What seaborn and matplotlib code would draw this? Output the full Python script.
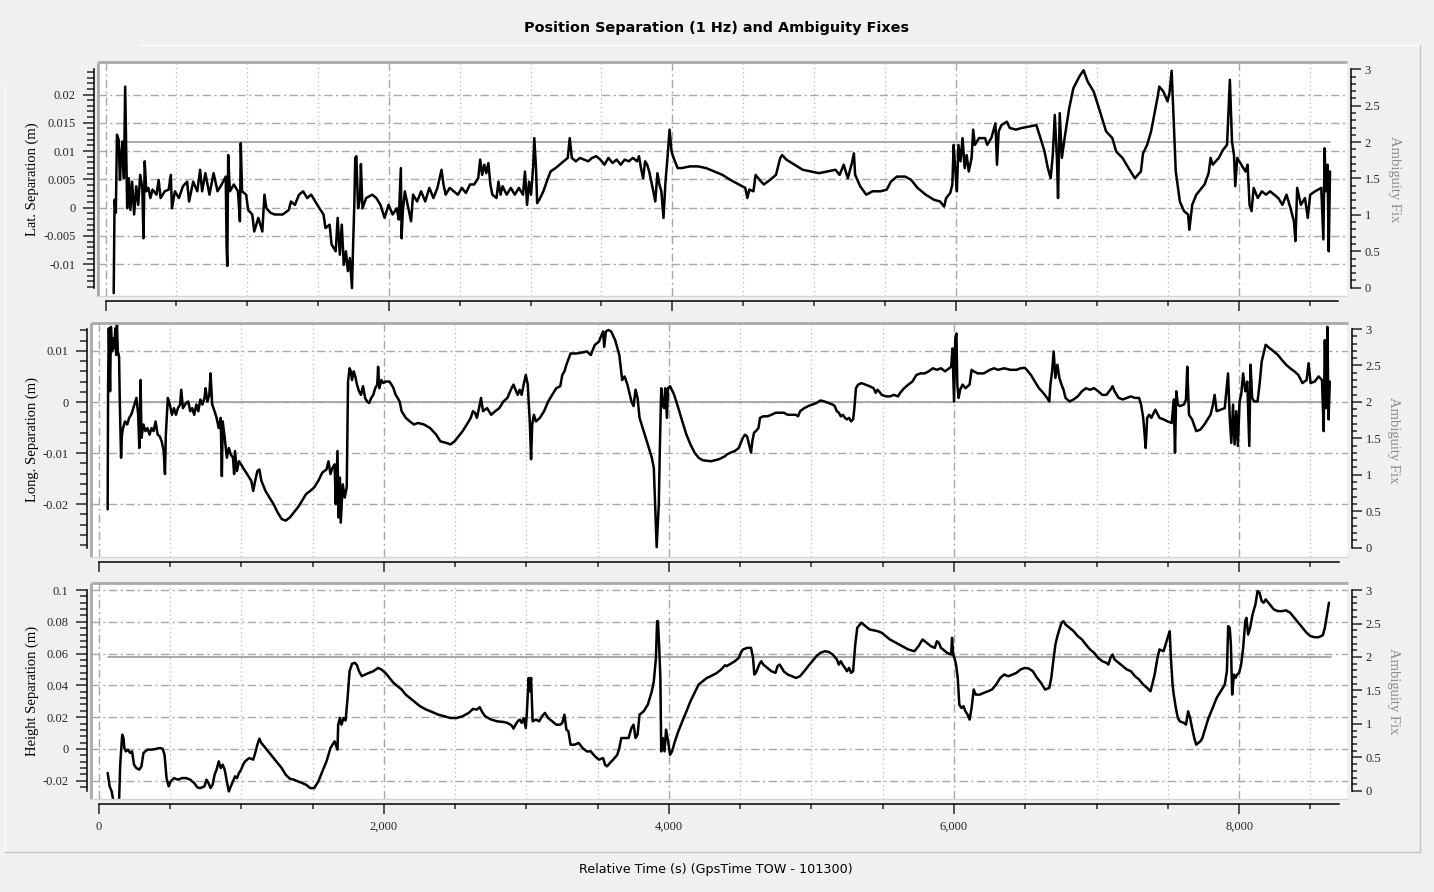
import numpy as np
import matplotlib
matplotlib.use("Agg")
import matplotlib.pyplot as plt
import seaborn as sns
from matplotlib.ticker import FixedLocator, FuncFormatter, NullFormatter
from matplotlib.lines import Line2D

sns.set_style("white")
plt.rcParams['font.family'] = ['DejaVu Sans']

# ---------------- data ----------------
title_text = "Position Separation (1 Hz) and Ambiguity Fixes"
xlabel_text = "Relative Time (s) (GpsTime TOW - 101300)"
ylabels = ["Lat. Separation (m)", "Long. Separation (m)", "Height Separation (m)"]
amb_label = "Ambiguity Fix"

lat_t = [57, 63, 72, 80, 92, 101, 109, 118, 129, 138,
         147, 152, 164, 175, 187, 201, 216, 230, 244, 259,
         267, 276, 287, 302, 316, 331, 359, 374, 388, 417,
         445, 460, 468, 489, 517, 546, 575, 589, 618, 647,
         667, 681, 704, 733, 762, 790, 819, 848, 854, 859,
         865, 877, 905, 934, 948, 954, 963, 992, 1006, 1035,
         1049, 1078, 1106, 1121, 1135, 1164, 1193, 1250, 1293, 1308,
         1336, 1365, 1394, 1423, 1451, 1480, 1509, 1538, 1552, 1581,
         1595, 1624, 1638, 1653, 1667, 1681, 1696, 1710, 1724, 1739,
         1747, 1756, 1762, 1770, 1782, 1796, 1802, 1813, 1839, 1882,
         1911, 1940, 1969, 1997, 2026, 2055, 2069, 2084, 2089, 2098,
         2112, 2141, 2156, 2170, 2199, 2227, 2256, 2285, 2314, 2342,
         2357, 2371, 2385, 2400, 2429, 2457, 2486, 2515, 2543, 2572,
         2601, 2630, 2644, 2658, 2673, 2687, 2702, 2716, 2730, 2759,
         2773, 2788, 2802, 2831, 2860, 2888, 2917, 2946, 2960, 2975,
         2989, 3003, 3018, 3026, 3038, 3046, 3061, 3090, 3118, 3141,
         3176, 3204, 3233, 3262, 3276, 3291, 3319, 3348, 3377, 3406,
         3434, 3463, 3492, 3521, 3549, 3578, 3607, 3636, 3664, 3693,
         3722, 3751, 3765, 3779, 3794, 3808, 3823, 3837, 3866, 3880,
         3895, 3909, 3923, 3938, 3952, 3966, 3981, 3995, 4009, 4038,
         4067, 4124, 4182, 4239, 4297, 4354, 4411, 4515, 4530, 4544,
         4573, 4588, 4617, 4646, 4689, 4732, 4762, 4776, 4805, 4863,
         4921, 4978, 5036, 5094, 5152, 5181, 5210, 5239, 5268, 5282,
         5291, 5326, 5369, 5413, 5470, 5514, 5543, 5586, 5644, 5687,
         5731, 5789, 5847, 5890, 5919, 5933, 5962, 5977, 5986, 5997,
         6009, 6020, 6035, 6049, 6064, 6078, 6093, 6113, 6124, 6136,
         6165, 6208, 6223, 6252, 6281, 6292, 6304, 6324, 6362, 6382,
         6425, 6469, 6512, 6570, 6599, 6628, 6651, 6671, 6686, 6700,
         6715, 6723, 6735, 6750, 6773, 6802, 6831, 6874, 6903, 6932,
         6975, 7019, 7062, 7106, 7134, 7178, 7221, 7265, 7308, 7323,
         7352, 7380, 7424, 7438, 7467, 7496, 7511, 7525, 7534, 7554,
         7583, 7612, 7641, 7650, 7670, 7699, 7728, 7757, 7786, 7800,
         7815, 7858, 7887, 7916, 7936, 7951, 7965, 7974, 7988, 8017,
         8046, 8061, 8075, 8089, 8104, 8133, 8162, 8191, 8220, 8249,
         8278, 8307, 8336, 8364, 8388, 8399, 8411, 8437, 8466, 8486,
         8503, 8538, 8581, 8596, 8605, 8613, 8625, 8634, 8643]
lat_v = [-0.0151, 0.0014, -0.0009, 0.0129, 0.0120, 0.0049, 0.0088, 0.0117, 0.0052, 0.0214,
         0.0070, -0.0001, 0.0052, -0.0004, 0.0046, -0.0012, 0.0038, 0.0005, 0.0058, 0.0035,
         -0.0054, 0.0082, 0.0029, 0.0035, 0.0017, 0.0032, 0.0023, 0.0049, 0.0017, 0.0029,
         0.0032, 0.0058, -0.0001, 0.0029, 0.0017, 0.0038, 0.0046, 0.0011, 0.0046, 0.0029,
         0.0067, 0.0029, 0.0061, 0.0023, 0.0061, 0.0029, 0.0041, 0.0055, -0.0071, -0.0103,
         0.0093, 0.0029, 0.0041, 0.0029, -0.0024, 0.0114, 0.0029, 0.0023, -0.0004, -0.0012,
         -0.0042, -0.0018, -0.0042, 0.0023, -0.0001, -0.0009, -0.0012, -0.0012, -0.0004, 0.0011,
         0.0005, 0.0023, 0.0029, 0.0017, 0.0023, 0.0011, -0.0001, -0.0012, -0.0036, -0.0030,
         -0.0065, -0.0077, -0.0018, -0.0083, -0.0030, -0.0101, -0.0077, -0.0112, -0.0089, -0.0142,
         -0.0065, 0.0011, 0.0088, 0.0091, -0.0001, 0.0017, 0.0077, -0.0001, 0.0017, 0.0023,
         0.0017, 0.0005, -0.0018, 0.0005, -0.0012, -0.0001, -0.0021, 0.0070, -0.0054, -0.0006,
         0.0029, -0.0006, -0.0024, 0.0023, 0.0011, 0.0029, 0.0011, 0.0035, 0.0017, 0.0035,
         0.0052, 0.0067, 0.0041, 0.0023, 0.0035, 0.0029, 0.0023, 0.0035, 0.0026, 0.0041,
         0.0041, 0.0052, 0.0085, 0.0058, 0.0076, 0.0061, 0.0079, 0.0041, 0.0023, 0.0017,
         0.0046, 0.0023, 0.0038, 0.0023, 0.0035, 0.0023, 0.0035, 0.0023, 0.0064, 0.0005,
         0.0046, 0.0023, 0.0073, 0.0123, 0.0070, 0.0008, 0.0014, 0.0029, 0.0049, 0.0064,
         0.0070, 0.0076, 0.0082, 0.0088, 0.0123, 0.0088, 0.0082, 0.0088, 0.0085, 0.0082,
         0.0088, 0.0091, 0.0085, 0.0076, 0.0088, 0.0079, 0.0085, 0.0076, 0.0085, 0.0082,
         0.0088, 0.0082, 0.0091, 0.0070, 0.0052, 0.0082, 0.0076, 0.0064, 0.0029, 0.0011,
         0.0061, 0.0041, 0.0029, -0.0018, 0.0046, 0.0088, 0.0138, 0.0099, 0.0088, 0.0070,
         0.0070, 0.0073, 0.0073, 0.0070, 0.0064, 0.0058, 0.0049, 0.0035, 0.0017, 0.0032,
         0.0029, 0.0058, 0.0049, 0.0041, 0.0049, 0.0058, 0.0088, 0.0093, 0.0085, 0.0076,
         0.0067, 0.0064, 0.0061, 0.0064, 0.0067, 0.0058, 0.0076, 0.0052, 0.0079, 0.0096,
         0.0058, 0.0038, 0.0023, 0.0029, 0.0029, 0.0032, 0.0046, 0.0055, 0.0055, 0.0049,
         0.0035, 0.0023, 0.0014, 0.0011, 0.0002, 0.0017, 0.0026, 0.0041, 0.0111, 0.0070,
         0.0029, 0.0111, 0.0082, 0.0123, 0.0070, 0.0093, 0.0064, 0.0088, 0.0138, 0.0111,
         0.0123, 0.0123, 0.0111, 0.0123, 0.0149, 0.0076, 0.0135, 0.0146, 0.0152, 0.0141,
         0.0138, 0.0141, 0.0143, 0.0146, 0.0123, 0.0099, 0.0070, 0.0052, 0.0093, 0.0164,
         0.0088, 0.0017, 0.0167, 0.0088, 0.0129, 0.0176, 0.0211, 0.0232, 0.0243, 0.0223,
         0.0205, 0.0170, 0.0135, 0.0123, 0.0099, 0.0088, 0.0070, 0.0052, 0.0064, 0.0096,
         0.0111, 0.0135, 0.0193, 0.0214, 0.0205, 0.0188, 0.0205, 0.0242, 0.0188, 0.0064,
         0.0011, -0.0006, -0.0012, -0.0039, 0.0005, 0.0023, 0.0032, 0.0041, 0.0061, 0.0088,
         0.0076, 0.0088, 0.0102, 0.0111, 0.0226, 0.0117, 0.0093, 0.0038, 0.0088, 0.0076,
         0.0064, 0.0076, 0.0005, -0.0006, 0.0035, 0.0017, 0.0029, 0.0023, 0.0029, 0.0023,
         0.0017, 0.0005, 0.0023, -0.0001, -0.0024, -0.0059, 0.0035, 0.0005, 0.0017, -0.0018,
         0.0023, 0.0029, 0.0035, -0.0056, 0.0105, 0.0029, 0.0076, -0.0077, 0.0064]

long_t = [63, 66, 71, 80, 86, 94, 100, 108, 117, 123,
          128, 134, 143, 148, 157, 163, 171, 185, 200, 214,
          228, 243, 257, 265, 277, 285, 294, 300, 314, 328,
          342, 357, 371, 385, 399, 414, 428, 442, 456, 465,
          471, 485, 499, 514, 528, 542, 556, 571, 579, 591,
          613, 628, 642, 656, 670, 685, 699, 713, 728, 742,
          750, 762, 776, 785, 796, 813, 827, 842, 856, 864,
          870, 884, 899, 913, 927, 942, 950, 956, 970, 984,
          999, 1013, 1041, 1070, 1084, 1098, 1113, 1127, 1141, 1170,
          1198, 1227, 1255, 1284, 1312, 1341, 1369, 1398, 1427, 1455,
          1484, 1512, 1541, 1569, 1598, 1612, 1626, 1640, 1655, 1663,
          1675, 1683, 1692, 1698, 1712, 1726, 1740, 1749, 1760, 1769,
          1777, 1789, 1800, 1812, 1826, 1840, 1854, 1869, 1883, 1897,
          1912, 1926, 1940, 1954, 1960, 1969, 1983, 1997, 2011, 2040,
          2054, 2068, 2083, 2097, 2111, 2125, 2154, 2183, 2211, 2240,
          2282, 2325, 2368, 2397, 2439, 2468, 2496, 2525, 2553, 2582,
          2610, 2625, 2639, 2653, 2668, 2682, 2696, 2725, 2753, 2782,
          2810, 2839, 2867, 2896, 2910, 2924, 2939, 2953, 2967, 2981,
          2996, 3010, 3016, 3024, 3033, 3041, 3053, 3067, 3095, 3124,
          3153, 3181, 3210, 3238, 3252, 3267, 3281, 3310, 3352, 3395,
          3424, 3452, 3466, 3481, 3509, 3523, 3538, 3546, 3558, 3575,
          3595, 3623, 3652, 3672, 3689, 3709, 3737, 3752, 3766, 3780,
          3794, 3823, 3852, 3866, 3880, 3894, 3903, 3914, 3929, 3937,
          3946, 3957, 3966, 3974, 3986, 3994, 4008, 4037, 4066, 4094,
          4123, 4151, 4180, 4208, 4237, 4294, 4351, 4394, 4404, 4433,
          4462, 4490, 4504, 4519, 4533, 4548, 4562, 4576, 4585, 4597,
          4610, 4628, 4639, 4662, 4691, 4719, 4748, 4777, 4805, 4834,
          4863, 4891, 4906, 4920, 4949, 4977, 5006, 5035, 5063, 5092,
          5120, 5149, 5163, 5178, 5192, 5206, 5221, 5235, 5249, 5264,
          5278, 5292, 5301, 5312, 5327, 5350, 5378, 5407, 5436, 5450,
          5464, 5493, 5522, 5550, 5579, 5607, 5622, 5650, 5679, 5708,
          5736, 5765, 5794, 5822, 5851, 5880, 5908, 5937, 5966, 5980,
          5989, 6000, 6009, 6017, 6023, 6032, 6043, 6060, 6080, 6109,
          6123, 6138, 6166, 6209, 6252, 6281, 6309, 6352, 6395, 6438,
          6467, 6496, 6510, 6539, 6567, 6596, 6625, 6653, 6668, 6676,
          6688, 6699, 6711, 6725, 6739, 6754, 6768, 6782, 6811, 6839,
          6868, 6897, 6925, 6954, 6983, 7011, 7040, 7069, 7097, 7112,
          7126, 7155, 7183, 7212, 7241, 7269, 7298, 7312, 7327, 7335,
          7344, 7355, 7369, 7384, 7412, 7441, 7470, 7498, 7527, 7541,
          7550, 7559, 7570, 7584, 7613, 7627, 7636, 7648, 7670, 7699,
          7728, 7756, 7785, 7799, 7814, 7828, 7842, 7871, 7899, 7922,
          7934, 7945, 7957, 7968, 7980, 7991, 8003, 8014, 8028, 8043,
          8057, 8071, 8080, 8091, 8106, 8129, 8143, 8158, 8186, 8215,
          8243, 8272, 8301, 8329, 8358, 8387, 8415, 8444, 8473, 8487,
          8501, 8530, 8558, 8581, 8593, 8601, 8610, 8619, 8627, 8636]
long_v = [-0.0210, 0.0034, 0.0144, 0.0021, 0.0147, 0.0099, 0.0125, 0.0105, 0.0144, 0.0092,
          0.0154, 0.0099, 0.0089, 0.0001, -0.0109, -0.0064, -0.0051, -0.0038, -0.0044, -0.0031,
          -0.0025, -0.0012, 0.0001, 0.0008, -0.0025, -0.0090, 0.0043, -0.0070, -0.0044, -0.0057,
          -0.0051, -0.0064, -0.0051, -0.0057, -0.0038, -0.0064, -0.0067, -0.0077, -0.0096, -0.0141,
          -0.0064, 0.0008, -0.0005, -0.0025, -0.0012, -0.0025, -0.0012, -0.0005, 0.0024, -0.0012,
          -0.0002, 0.0001, -0.0018, -0.0012, -0.0025, -0.0005, -0.0018, 0.0005, -0.0005, 0.0008,
          0.0027, 0.0001, 0.0014, 0.0056, -0.0005, -0.0018, -0.0031, -0.0051, -0.0031, -0.0145,
          -0.0038, -0.0070, -0.0109, -0.0090, -0.0103, -0.0109, -0.0141, -0.0096, -0.0135, -0.0116,
          -0.0122, -0.0129, -0.0141, -0.0154, -0.0174, -0.0154, -0.0135, -0.0132, -0.0154, -0.0174,
          -0.0187, -0.0200, -0.0216, -0.0229, -0.0232, -0.0226, -0.0216, -0.0206, -0.0193, -0.0180,
          -0.0174, -0.0167, -0.0154, -0.0138, -0.0132, -0.0116, -0.0141, -0.0129, -0.0122, -0.0200,
          -0.0096, -0.0226, -0.0148, -0.0236, -0.0161, -0.0187, -0.0167, 0.0040, 0.0066, 0.0060,
          0.0043, 0.0060, 0.0050, 0.0034, 0.0021, 0.0014, 0.0031, 0.0008, 0.0001, -0.0002,
          0.0008, 0.0014, 0.0027, 0.0034, 0.0069, 0.0027, 0.0043, 0.0037, 0.0040, 0.0040,
          0.0034, 0.0027, 0.0014, 0.0008, 0.0001, -0.0018, -0.0031, -0.0038, -0.0044, -0.0041,
          -0.0044, -0.0051, -0.0064, -0.0077, -0.0080, -0.0083, -0.0077, -0.0067, -0.0057, -0.0044,
          -0.0031, -0.0018, -0.0021, -0.0031, -0.0012, 0.0008, -0.0018, -0.0012, -0.0025, -0.0018,
          -0.0012, 0.0001, 0.0008, 0.0027, 0.0034, 0.0024, 0.0014, 0.0024, 0.0014, 0.0034,
          0.0053, 0.0034, 0.0001, -0.0038, -0.0112, -0.0044, -0.0025, -0.0038, -0.0031, -0.0018,
          0.0001, 0.0014, 0.0027, 0.0031, 0.0053, 0.0060, 0.0073, 0.0095, 0.0095, 0.0097,
          0.0099, 0.0092, 0.0102, 0.0112, 0.0118, 0.0128, 0.0138, 0.0108, 0.0138, 0.0141,
          0.0138, 0.0121, 0.0092, 0.0043, 0.0050, 0.0034, 0.0001, -0.0008, 0.0024, 0.0008,
          -0.0031, -0.0057, -0.0083, -0.0096, -0.0109, -0.0129, -0.0200, -0.0284, -0.0200, -0.0083,
          0.0027, -0.0005, -0.0012, 0.0027, -0.0031, 0.0027, 0.0031, 0.0014, -0.0012, -0.0038,
          -0.0064, -0.0083, -0.0099, -0.0109, -0.0114, -0.0116, -0.0112, -0.0106, -0.0103, -0.0099,
          -0.0096, -0.0090, -0.0080, -0.0070, -0.0064, -0.0067, -0.0083, -0.0099, -0.0077, -0.0060,
          -0.0057, -0.0051, -0.0031, -0.0028, -0.0028, -0.0025, -0.0021, -0.0021, -0.0021, -0.0025,
          -0.0025, -0.0025, -0.0028, -0.0018, -0.0012, -0.0008, -0.0005, -0.0002, 0.0003, 0.0001,
          -0.0002, -0.0005, -0.0008, -0.0018, -0.0021, -0.0028, -0.0025, -0.0031, -0.0034, -0.0031,
          -0.0038, -0.0034, -0.0012, 0.0027, 0.0034, 0.0037, 0.0034, 0.0031, 0.0027, 0.0018,
          0.0024, 0.0014, 0.0011, 0.0011, 0.0014, 0.0011, 0.0018, 0.0027, 0.0034, 0.0040,
          0.0053, 0.0056, 0.0056, 0.0060, 0.0066, 0.0063, 0.0066, 0.0060, 0.0066, 0.0069,
          0.0105, 0.0001, 0.0125, 0.0134, 0.0034, 0.0008, 0.0024, 0.0034, 0.0027, 0.0034,
          0.0063, 0.0060, 0.0056, 0.0056, 0.0063, 0.0066, 0.0063, 0.0066, 0.0063, 0.0063,
          0.0066, 0.0067, 0.0063, 0.0053, 0.0040, 0.0027, 0.0018, 0.0008, 0.0001, 0.0034,
          0.0060, 0.0099, 0.0047, 0.0073, 0.0047, 0.0034, 0.0024, 0.0008, 0.0001, 0.0005,
          0.0011, 0.0021, 0.0027, 0.0024, 0.0027, 0.0021, 0.0014, 0.0014, 0.0024, 0.0031,
          0.0021, 0.0008, 0.0005, 0.0008, 0.0011, 0.0008, 0.0008, -0.0005, -0.0031, -0.0057,
          -0.0090, -0.0031, -0.0025, -0.0031, -0.0015, -0.0031, -0.0034, -0.0038, -0.0041, 0.0005,
          -0.0099, 0.0021, -0.0005, -0.0008, -0.0005, 0.0005, 0.0069, -0.0025, -0.0034, -0.0057,
          -0.0054, -0.0044, -0.0031, -0.0025, -0.0008, 0.0014, -0.0018, -0.0015, -0.0012, 0.0056,
          -0.0031, -0.0080, -0.0005, -0.0083, -0.0018, -0.0086, 0.0001, 0.0014, 0.0056, 0.0021,
          0.0040, -0.0086, 0.0073, 0.0008, 0.0001, 0.0001, 0.0034, 0.0079, 0.0112, 0.0105,
          0.0099, 0.0092, 0.0082, 0.0073, 0.0066, 0.0060, 0.0053, 0.0037, 0.0043, 0.0076,
          0.0037, 0.0040, 0.0050, 0.0043, -0.0057, 0.0121, -0.0012, 0.0147, -0.0034, 0.0040]

height_t = [63, 77, 91, 106, 128, 143, 151, 157, 165, 174,
            180, 191, 205, 220, 234, 248, 265, 285, 300, 314,
            328, 342, 371, 399, 428, 448, 462, 476, 491, 505,
            528, 556, 585, 613, 642, 670, 693, 713, 742, 756,
            770, 785, 799, 813, 827, 842, 856, 870, 884, 899,
            913, 927, 942, 956, 970, 984, 999, 1013, 1027, 1041,
            1056, 1084, 1098, 1113, 1127, 1141, 1170, 1198, 1227, 1255,
            1284, 1312, 1341, 1369, 1398, 1427, 1455, 1484, 1512, 1541,
            1569, 1598, 1626, 1655, 1675, 1680, 1692, 1703, 1718, 1732,
            1746, 1760, 1777, 1797, 1812, 1826, 1846, 1869, 1897, 1926,
            1960, 1983, 2011, 2040, 2068, 2097, 2125, 2154, 2183, 2211,
            2254, 2297, 2339, 2382, 2425, 2468, 2511, 2553, 2596, 2625,
            2653, 2673, 2690, 2710, 2753, 2796, 2839, 2867, 2896, 2910,
            2924, 2939, 2953, 2967, 2981, 2996, 3004, 3016, 3024, 3033,
            3044, 3067, 3090, 3110, 3130, 3153, 3181, 3210, 3238, 3252,
            3267, 3281, 3295, 3310, 3338, 3367, 3395, 3424, 3452, 3481,
            3509, 3538, 3552, 3566, 3586, 3609, 3638, 3652, 3666, 3695,
            3717, 3737, 3752, 3766, 3780, 3794, 3823, 3852, 3880, 3894,
            3909, 3917, 3923, 3931, 3940, 3946, 3957, 3969, 3980, 3994,
            4008, 4022, 4042, 4066, 4094, 4123, 4151, 4180, 4208, 4237,
            4266, 4294, 4337, 4366, 4394, 4404, 4433, 4462, 4490, 4504,
            4519, 4548, 4576, 4590, 4599, 4610, 4633, 4648, 4662, 4691,
            4719, 4748, 4762, 4777, 4791, 4805, 4834, 4863, 4891, 4920,
            4949, 4977, 5006, 5035, 5063, 5092, 5120, 5149, 5178, 5192,
            5206, 5221, 5235, 5249, 5264, 5278, 5292, 5307, 5321, 5350,
            5378, 5407, 5464, 5493, 5522, 5550, 5593, 5636, 5679, 5722,
            5751, 5779, 5808, 5837, 5865, 5880, 5894, 5908, 5923, 5951,
            5980, 5986, 5994, 6003, 6014, 6026, 6037, 6052, 6066, 6080,
            6095, 6109, 6123, 6138, 6152, 6180, 6209, 6238, 6266, 6295,
            6324, 6352, 6381, 6410, 6438, 6467, 6496, 6524, 6553, 6582,
            6610, 6639, 6668, 6682, 6696, 6711, 6725, 6739, 6754, 6768,
            6782, 6811, 6839, 6868, 6897, 6925, 6954, 6983, 7011, 7040,
            7069, 7083, 7097, 7112, 7126, 7155, 7183, 7212, 7241, 7269,
            7298, 7327, 7355, 7378, 7390, 7407, 7427, 7441, 7470, 7484,
            7498, 7513, 7521, 7533, 7541, 7556, 7570, 7584, 7613, 7627,
            7642, 7656, 7670, 7685, 7699, 7713, 7728, 7742, 7756, 7785,
            7814, 7842, 7871, 7899, 7914, 7923, 7934, 7942, 7951, 7963,
            7974, 7985, 8000, 8014, 8028, 8043, 8051, 8063, 8077, 8094,
            8114, 8129, 8143, 8158, 8172, 8186, 8215, 8243, 8272, 8301,
            8329, 8358, 8387, 8415, 8444, 8473, 8501, 8530, 8558, 8587,
            8601, 8616, 8630]
height_v = [-0.0151, -0.0235, -0.0267, -0.0340, -0.0340, -0.0330, -0.0099, -0.0015, 0.0090, 0.0069,
            0.0006, -0.0015, -0.0004, -0.0025, -0.0015, -0.0099, -0.0120, -0.0130, -0.0109, -0.0025,
            -0.0015, -0.0004, -0.0004, 0.0000, 0.0006, 0.0002, -0.0036, -0.0183, -0.0235, -0.0204,
            -0.0183, -0.0193, -0.0183, -0.0183, -0.0193, -0.0214, -0.0242, -0.0246, -0.0235, -0.0193,
            -0.0214, -0.0246, -0.0225, -0.0162, -0.0130, -0.0078, -0.0120, -0.0099, -0.0130, -0.0204,
            -0.0267, -0.0235, -0.0204, -0.0172, -0.0183, -0.0151, -0.0130, -0.0099, -0.0078, -0.0067,
            -0.0057, -0.0067, -0.0025, 0.0027, 0.0065, 0.0038, 0.0006, -0.0025, -0.0057, -0.0088,
            -0.0120, -0.0162, -0.0187, -0.0193, -0.0204, -0.0214, -0.0225, -0.0246, -0.0246, -0.0204,
            -0.0141, -0.0078, 0.0006, 0.0048, -0.0004, 0.0153, 0.0195, 0.0153, 0.0195, 0.0179,
            0.0321, 0.0489, 0.0536, 0.0542, 0.0527, 0.0489, 0.0458, 0.0468, 0.0479, 0.0489,
            0.0510, 0.0500, 0.0479, 0.0447, 0.0416, 0.0395, 0.0374, 0.0342, 0.0321, 0.0300,
            0.0269, 0.0248, 0.0233, 0.0216, 0.0206, 0.0195, 0.0195, 0.0206, 0.0227, 0.0252,
            0.0248, 0.0263, 0.0233, 0.0206, 0.0185, 0.0174, 0.0170, 0.0164, 0.0149, 0.0128,
            0.0153, 0.0174, 0.0185, 0.0164, 0.0195, 0.0132, 0.0237, 0.0447, 0.0363, 0.0447,
            0.0174, 0.0185, 0.0174, 0.0206, 0.0227, 0.0195, 0.0174, 0.0153, 0.0153, 0.0164,
            0.0216, 0.0122, 0.0111, 0.0027, 0.0027, 0.0038, 0.0006, -0.0015, -0.0015, -0.0046,
            -0.0067, -0.0057, -0.0099, -0.0109, -0.0088, -0.0067, -0.0036, 0.0006, 0.0069, 0.0069,
            0.0069, 0.0132, 0.0153, 0.0069, 0.0090, 0.0216, 0.0237, 0.0279, 0.0363, 0.0426,
            0.0573, 0.0804, 0.0804, 0.0657, 0.0447, -0.0015, 0.0069, -0.0015, 0.0122, 0.0048,
            -0.0036, -0.0015, 0.0048, 0.0111, 0.0174, 0.0237, 0.0300, 0.0353, 0.0405, 0.0426,
            0.0447, 0.0458, 0.0479, 0.0500, 0.0527, 0.0521, 0.0536, 0.0552, 0.0573, 0.0605,
            0.0626, 0.0636, 0.0636, 0.0573, 0.0468, 0.0479, 0.0531, 0.0552, 0.0531, 0.0510,
            0.0489, 0.0479, 0.0521, 0.0531, 0.0510, 0.0489, 0.0468, 0.0458, 0.0447, 0.0458,
            0.0489, 0.0521, 0.0552, 0.0584, 0.0605, 0.0615, 0.0611, 0.0594, 0.0563, 0.0531,
            0.0552, 0.0527, 0.0510, 0.0489, 0.0510, 0.0479, 0.0489, 0.0657, 0.0762, 0.0794,
            0.0773, 0.0752, 0.0741, 0.0731, 0.0710, 0.0689, 0.0668, 0.0647, 0.0626, 0.0615,
            0.0647, 0.0689, 0.0668, 0.0647, 0.0636, 0.0678, 0.0668, 0.0636, 0.0626, 0.0605,
            0.0594, 0.0699, 0.0594, 0.0573, 0.0531, 0.0447, 0.0279, 0.0258, 0.0269, 0.0237,
            0.0216, 0.0185, 0.0258, 0.0374, 0.0342, 0.0342, 0.0353, 0.0363, 0.0374, 0.0405,
            0.0447, 0.0468, 0.0458, 0.0468, 0.0479, 0.0500, 0.0510, 0.0506, 0.0489, 0.0447,
            0.0416, 0.0374, 0.0384, 0.0447, 0.0552, 0.0657, 0.0710, 0.0752, 0.0794, 0.0804,
            0.0783, 0.0762, 0.0741, 0.0710, 0.0689, 0.0657, 0.0626, 0.0605, 0.0573, 0.0552,
            0.0542, 0.0531, 0.0573, 0.0594, 0.0563, 0.0542, 0.0521, 0.0500, 0.0489, 0.0458,
            0.0437, 0.0405, 0.0384, 0.0363, 0.0405, 0.0468, 0.0573, 0.0626, 0.0615, 0.0657,
            0.0699, 0.0741, 0.0573, 0.0405, 0.0342, 0.0258, 0.0195, 0.0174, 0.0164, 0.0153,
            0.0237, 0.0195, 0.0132, 0.0069, 0.0027, 0.0038, 0.0048, 0.0069, 0.0111, 0.0195,
            0.0258, 0.0321, 0.0363, 0.0405, 0.0489, 0.0773, 0.0762, 0.0657, 0.0342, 0.0468,
            0.0447, 0.0468, 0.0479, 0.0531, 0.0636, 0.0804, 0.0825, 0.0720, 0.0762, 0.0846,
            0.0909, 0.0993, 0.0983, 0.0930, 0.0920, 0.0941, 0.0909, 0.0878, 0.0867, 0.0867,
            0.0872, 0.0857, 0.0825, 0.0794, 0.0762, 0.0731, 0.0710, 0.0703, 0.0703, 0.0716,
            0.0762, 0.0846, 0.0920]

# ambiguity fix (constant fixed = 2 over the whole session)
amb_t = [65, 8645]
amb_v = [2, 2]

# ---------------- layout / style ----------------
FIG_W, FIG_H = 1434, 892
BG = '#f0f0f0'
GRID = '#a8a8a8'
SERIF = ['Liberation Serif', 'DejaVu Serif']
XLIM = (-56, 8760)

def frac_box(x0, y0, x1, y1):
    return [x0 / FIG_W, 1 - y1 / FIG_H, (x1 - x0) / FIG_W, (y1 - y0) / FIG_H]

def ticks_in(lo, hi, step):
    k0 = int(np.ceil(lo / step - 1e-6))
    k1 = int(np.floor(hi / step + 1e-6))
    return [round(k * step, 6) for k in range(k0, k1 + 1)]

panels = [
    dict(t=lat_t, v=lat_v, label=ylabels[0], box=(97.7, 61.7, 1346.6, 295.7),
         ylim=(-0.01555, 0.0258), bounds=(-0.01413, 0.02445), major=0.005, minor=0.001,
         amb_ylim=(-0.11, 3.104), xlabels=False),
    dict(t=long_t, v=long_v, label=ylabels[1], box=(90.7, 322.7, 1347.5, 556.7),
         ylim=(-0.03027, 0.01552), bounds=(-0.02847, 0.01429), major=0.01, minor=0.002,
         amb_ylim=(-0.126, 3.0865), xlabels=False),
    dict(t=height_t, v=height_v, label=ylabels[2], box=(90.7, 582.7, 1347.5, 799.3),
         ylim=(-0.03164, 0.1046), bounds=(-0.0264, 0.1002), major=0.02, minor=0.004,
         amb_ylim=(-0.124, 3.109), xlabels=True),
]

fig = plt.figure(figsize=(FIG_W / 100, FIG_H / 100), dpi=100, facecolor=BG)

# etched outer border
def fig_line(x0, y0, x1, y1, color, lw=1.0):
    fig.add_artist(Line2D([x0 / FIG_W, x1 / FIG_W], [1 - y0 / FIG_H, 1 - y1 / FIG_H],
                          transform=fig.transFigure, color=color, lw=lw))

fig_line(140, 45, 1420, 45, 'white')
fig_line(5, 85, 5, 852, 'white')
fig_line(5, 852, 1420, 852, '#c4c4c4')
fig_line(1420, 45, 1420, 852, '#c4c4c4')

fmt_y = FuncFormatter(lambda v, p: '%g' % round(v, 6))
fmt_x = FuncFormatter(lambda v, p: '{:,.0f}'.format(v))

for P in panels:
    x0, y0, x1, y1 = P['box']
    ax = fig.add_axes(frac_box(*P['box']))
    ax2 = ax.twinx()
    ax.set_zorder(2)
    ax2.set_zorder(1)
    ax.patch.set_visible(False)
    ax2.patch.set_visible(True)
    ax2.patch.set_facecolor('white')

    # ambiguity fix line on right scale
    sns.lineplot(x=amb_t, y=amb_v, ax=ax2, color='#999999', linewidth=1.2,
                 estimator=None, sort=False, legend=False)
    # separation series
    sns.lineplot(x=P['t'], y=P['v'], ax=ax, color='black', linewidth=1.8,
                 estimator=None, sort=False, legend=False)

    ax.set_xlim(*XLIM)
    ax.set_ylim(*P['ylim'])
    ax2.set_ylim(*P['amb_ylim'])

    # spines
    for s in ['top', 'right']:
        ax.spines[s].set_visible(False)
    for s in ['top', 'left', 'bottom']:
        ax2.spines[s].set_visible(False)
    ax.spines['left'].set_position(('outward', 3))
    ax.spines['bottom'].set_position(('outward', 3.6))
    ax2.spines['right'].set_position(('outward', 3))
    ax.spines['left'].set_bounds(*P['bounds'])
    ax.spines['bottom'].set_bounds(0, 8700)
    ax2.spines['right'].set_bounds(0, 3)
    for sp in [ax.spines['left'], ax.spines['bottom'], ax2.spines['right']]:
        sp.set_linewidth(1.1)
        sp.set_color('black')

    # ticks
    ax.yaxis.set_major_locator(FixedLocator(ticks_in(P['bounds'][0], P['bounds'][1], P['major'])))
    ax.yaxis.set_minor_locator(FixedLocator(ticks_in(P['bounds'][0], P['bounds'][1], P['minor'])))
    ax.yaxis.set_major_formatter(fmt_y)
    ax.xaxis.set_major_locator(FixedLocator(ticks_in(0, 8700, 2000)))
    ax.xaxis.set_minor_locator(FixedLocator(ticks_in(0, 8700, 500)))
    if P['xlabels']:
        ax.xaxis.set_major_formatter(fmt_x)
    else:
        ax.xaxis.set_major_formatter(NullFormatter())
    ax2.yaxis.set_major_locator(FixedLocator(ticks_in(0, 3, 0.5)))
    ax2.yaxis.set_minor_locator(FixedLocator(ticks_in(0, 3, 0.1)))
    ax2.yaxis.set_major_formatter(fmt_y)

    ax.tick_params(axis='y', which='major', direction='out', length=8, width=1.1, pad=5,
                   labelsize=9, left=True)
    ax.tick_params(axis='y', which='minor', direction='out', length=5, width=1.1, left=True)
    ax.tick_params(axis='x', which='major', direction='out', length=7, width=1.1, pad=5,
                   labelsize=9, bottom=True)
    ax.tick_params(axis='x', which='minor', direction='out', length=3.6, width=1.1, bottom=True)
    ax2.tick_params(axis='y', which='major', direction='out', length=7, width=1.1, pad=3,
                    labelsize=9, right=True)
    ax2.tick_params(axis='y', which='minor', direction='out', length=3.6, width=1.1, right=True)
    for lab in ax.get_yticklabels() + ax.get_xticklabels() + ax2.get_yticklabels():
        lab.set_family(SERIF)

    # grid
    ax.grid(False)
    ax2.grid(False)
    ax.grid(True, which='major', axis='y', color=GRID, lw=1.0, ls=(0, (6, 2.5, 1.5, 2.5)))
    ax.grid(True, which='major', axis='x', color=GRID, lw=1.0, ls=(0, (6, 2.5, 1.5, 2.5)))
    ax.grid(True, which='minor', axis='x', color='#b8b8b8', lw=0.9, ls=(0, (1, 2.5)))
    ax.set_axisbelow(True)

    # labels
    w_px = x1 - x0
    ax.set_xlabel('')
    ax.set_ylabel(P['label'], family=SERIF, fontsize=10.5, color='black')
    ax.yaxis.set_label_coords((32 - x0) / w_px, 0.5)
    ax.yaxis.label.set_va('center')
    ax2.set_xlabel('')
    ax2.set_ylabel(amb_label, family=SERIF, fontsize=10.5, color='#8c8c8c', rotation=270)
    ax2.yaxis.set_label_coords((1394 - x0) / w_px, 0.5)
    ax2.yaxis.label.set_va('center')
    ax2.yaxis.label.set_ha('center')

    # sunken frame around plot area
    ax.add_line(Line2D([0, 1], [1, 1], transform=ax.transAxes, color='#a9a9a9', lw=2.0,
                       clip_on=False, solid_capstyle='butt'))
    ax.add_line(Line2D([0, 0], [0, 1], transform=ax.transAxes, color='#a9a9a9', lw=2.0,
                       clip_on=False, solid_capstyle='butt'))
    ax.add_line(Line2D([0, 1], [0, 0], transform=ax.transAxes, color='#d4d4d4', lw=1.0,
                       clip_on=False, solid_capstyle='butt'))

fig.text(716 / FIG_W, 1 - 28 / FIG_H, title_text, ha='center', va='center',
         fontsize=10.4, fontweight='bold', color='black', family=['DejaVu Sans'])
fig.text(716 / FIG_W, 1 - 870 / FIG_H, xlabel_text, ha='center', va='center',
         fontsize=9.2, color='black', family=['DejaVu Sans'])

fig.savefig('out.png', dpi=100, facecolor=BG)
